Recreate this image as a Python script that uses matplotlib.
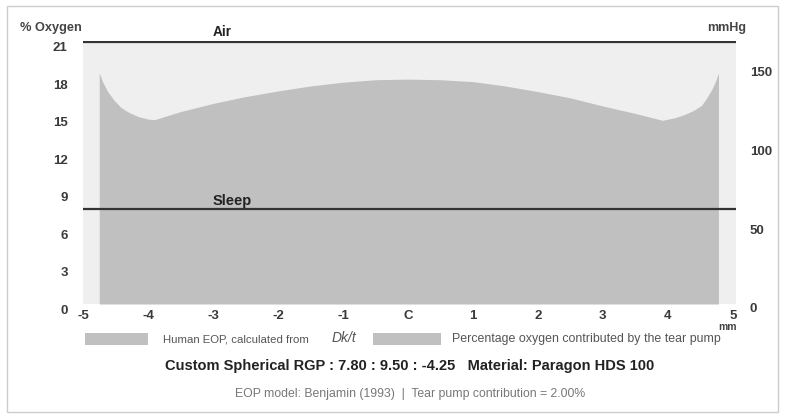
import matplotlib
matplotlib.use("Agg")
import matplotlib.pyplot as plt
from matplotlib.patches import Rectangle
from matplotlib.transforms import ScaledTranslation

# ---- data ----
pos_mm = [-4.75, -4.70, -4.62, -4.52, -4.42, -4.30, -4.15, -4.0, -3.9, -3.5, -3.0, -2.5,
          -2.0, -1.5, -1.0, -0.5, 0.0, 0.5, 1.0, 1.5, 2.0, 2.5, 3.0, 3.5, 3.92, 4.1,
          4.25, 4.4, 4.52, 4.6, 4.68, 4.74, 4.78]
eop_pct = [18.5, 17.8, 17.0, 16.3, 15.75, 15.35, 15.0, 14.8, 14.75, 15.4, 16.05, 16.6,
           17.05, 17.45, 17.75, 17.95, 18.0, 17.95, 17.8, 17.45, 17.0, 16.5, 15.85, 15.25,
           14.7, 14.9, 15.15, 15.5, 15.9, 16.5, 17.2, 17.9, 18.5]
air_pct = 21.0
sleep_pct = 7.6
left_ticks = [0, 3, 6, 9, 12, 15, 18, 21]
right_ticks = [0, 50, 100, 150]
x_ticks = [-5, -4, -3, -2, -1, 0, 1, 2, 3, 4, 5]
x_labels = ["-5", "-4", "-3", "-2", "-1", "C", "1", "2", "3", "4", "5"]

W, H = 788, 415
plt.rcParams['font.family'] = ['Liberation Sans', 'DejaVu Sans']
fig = plt.figure(figsize=(W / 100, H / 100), dpi=100)
fig.patch.set_facecolor('white')

def fx(px):
    return px / W

def fy(py):
    return 1 - py / H

ax = fig.add_axes([fx(83), fy(304), fx(736) - fx(83), fy(41) - fy(304)])
ax.set_facecolor('#efefef')
ax.set_xlim(-5.0, 5.05)
ax.set_ylim(0, 21.05)
for s in ax.spines.values():
    s.set_visible(False)

fill_col = '#c0c0c0'
ax.fill_between(pos_mm, 0, eop_pct, color=fill_col, linewidth=0)
ax.axhline(air_pct, color='#333333', linewidth=1.6)
ax.axhline(sleep_pct, color='#333333', linewidth=1.6)

tick_col = '#3a3a3a'
ax.set_xticks(x_ticks)
ax.set_xticklabels(x_labels, fontsize=9.5, fontweight='bold', color=tick_col)
ax.set_yticks(left_ticks)
ax.set_yticklabels([str(v) for v in left_ticks], fontsize=9.5, fontweight='bold', color=tick_col)
ax.tick_params(axis='both', length=0)
ax.tick_params(axis='x', pad=4)
ax.tick_params(axis='y', pad=11)

ax2 = ax.twinx()
ax2.set_ylim(0, 167)
for s in ax2.spines.values():
    s.set_visible(False)
ax2.set_yticks(right_ticks)
ax2.set_yticklabels([str(v) for v in right_ticks], fontsize=9.5, fontweight='bold', color=tick_col)
ax2.tick_params(axis='y', length=0, pad=10)

off = ScaledTranslation(0, -5 / 100, fig.dpi_scale_trans)
for lab in ax.get_yticklabels():
    lab.set_transform(lab.get_transform() + off)
off2 = ScaledTranslation(0, -4 / 100, fig.dpi_scale_trans)
for lab in ax2.get_yticklabels():
    lab.set_transform(lab.get_transform() + off2)

# annotations
fig.text(fx(20), fy(28), "% Oxygen", fontsize=9.2, fontweight='bold', color='#444444',
         ha='left', va='center')
fig.text(fx(213), fy(32), "Air", fontsize=9.8, fontweight='bold', color='#222222',
         ha='left', va='center')
fig.text(fx(707), fy(28), "mmHg", fontsize=9, fontweight='bold', color='#444444',
         ha='left', va='center')
fig.text(fx(213), fy(201), "Sleep", fontsize=10.5, fontweight='bold', color='#222222',
         ha='left', va='center')
fig.text(fx(718), fy(327), "mm", fontsize=7.5, fontweight='bold', color='#444444',
         ha='left', va='center')

# legend
fig.patches.append(Rectangle((fx(85), fy(345)), fx(148) - fx(85), fy(333) - fy(345),
                             transform=fig.transFigure, facecolor=fill_col, edgecolor='none'))
fig.text(fx(163), fy(339), "Human EOP, calculated from", fontsize=8.2, color='#555555',
         ha='left', va='center')
fig.text(fx(332), fy(338), "Dk/t", fontsize=10, style='italic', color='#555555',
         ha='left', va='center')
fig.patches.append(Rectangle((fx(373), fy(345)), fx(441) - fx(373), fy(333) - fy(345),
                             transform=fig.transFigure, facecolor=fill_col, edgecolor='none'))
fig.text(fx(452), fy(339), "Percentage oxygen contributed by the tear pump", fontsize=8.9,
         color='#555555', ha='left', va='center')

fig.text(fx(410), fy(366), "Custom Spherical RGP : 7.80 : 9.50 : -4.25   Material: Paragon HDS 100",
         fontsize=10.5, fontweight='bold', color='#222222', ha='center', va='center')
fig.text(fx(410), fy(394), "EOP model: Benjamin (1993)  |  Tear pump contribution = 2.00%",
         fontsize=8.8, color='#777777', ha='center', va='center')

# frame
fig.patches.append(Rectangle((fx(7), fy(412)), fx(778) - fx(7), fy(6) - fy(412),
                             transform=fig.transFigure, facecolor='none', edgecolor='#cccccc',
                             linewidth=1))

fig.savefig("out.png", dpi=100)
